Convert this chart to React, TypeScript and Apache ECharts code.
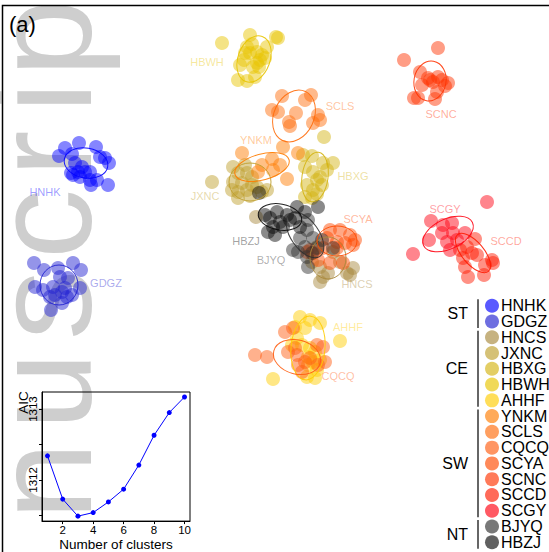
import React, { useEffect, useRef } from "react";
import * as echarts from "echarts";

const FONT = "'Liberation Sans', Arial, Helvetica, sans-serif";

// ---- clusters (legend order) ----
const clusterNames = ["HNHK", "GDGZ", "HNCS", "JXNC", "HBXG", "HBWH", "AHHF", "YNKM", "SCLS", "CQCQ", "SCYA", "SCNC", "SCCD", "SCGY", "BJYQ", "HBZJ"];
const clusterColors = ["#0000ff", "#2020d0", "#a8883c", "#bf9f2c", "#d4b412", "#e8c400", "#ffcc00", "#ff7c00", "#ff6c0a", "#ff5c10", "#ff4a00", "#ff3200", "#ff1a00", "#ff0010", "#303030", "#0a0a0a"];
const groupNames = ["ST", "CE", "SW", "NT"];
const groupSizes = [2, 5, 7, 2];

// ---- sample scores on the ordination plane (plane units) ----
const HNHK = [[59,156],[65,148],[79,143],[72,154],[96,147],[100,157],[105,158],[109,163],[75,163],[82,167],[78,172],[85,172],[90,172],[73,175],[80,177],[90,180],[97,180],[91,185],[108,185],[71,173]];
const GDGZ = [[34,263],[44,270],[73,263],[81,270],[58,268],[60,277],[68,278],[35,287],[43,290],[53,287],[80,288],[65,288],[55,295],[67,297],[50,297],[62,303],[72,295],[51,310],[62,292]];
const HNCS = [[323,277],[320,282],[328,273],[347,273],[353,268],[350,275],[320,267],[312,262],[333,252],[317,247],[256,217],[340,262]];
const JXNC = [[212,182],[233,167],[245,165],[238,173],[247,173],[252,177],[233,182],[242,183],[232,190],[238,192],[247,190],[257,187],[267,190],[238,198],[250,196],[262,192],[252,185]];
const HBXG = [[303,155],[312,156],[305,167],[313,172],[327,170],[333,163],[320,177],[317,180],[307,185],[322,185],[313,190],[305,197],[312,198],[317,194],[323,163],[324,137]];
const HBWH = [[222,43],[250,35],[278,38],[276,37],[267,47],[247,47],[252,44],[245,53],[257,52],[262,55],[250,53],[260,60],[265,58],[257,63],[244,60],[240,65],[253,67],[259,67],[238,80],[247,81],[255,77]];
const AHHF = [[300,317],[310,320],[320,323],[295,327],[305,328],[340,341],[297,338],[302,345],[310,348],[315,352],[308,357],[313,362],[320,360],[308,365],[317,370],[307,377],[315,378],[273,379],[292,345]];
const YNKM = [[242,153],[272,159],[280,165],[273,170],[287,179],[283,147],[298,153],[258,172],[262,165]];
const SCLS = [[282,96],[272,110],[278,112],[296,113],[305,100],[311,95],[318,115],[313,123],[320,120],[289,122],[290,126]];
const CQCQ = [[255,355],[267,357],[285,332],[293,328],[288,352],[297,355],[298,365],[305,362],[302,372],[310,358],[317,345],[323,347],[325,362],[318,365],[295,348]];
const SCYA = [[330,230],[340,230],[350,235],[355,240],[327,238],[337,242],[345,243],[353,245],[323,248],[337,248],[310,250],[313,253],[318,260],[330,263],[343,263],[307,252]];
const SCNC = [[404,60],[438,48],[420,72],[428,78],[438,77],[448,83],[445,86],[422,85],[433,82],[437,92],[435,99],[414,98],[418,98],[442,80],[430,80]];
const SCCD = [[475,239],[467,247],[460,250],[472,253],[463,258],[477,255],[465,267],[485,265],[492,260],[493,263],[468,277],[484,275]];
const SCGY = [[487,202],[431,221],[413,254],[429,240],[443,225],[452,223],[442,233],[453,233],[447,242],[457,240],[465,233],[450,250]];
const BJYQ = [[308,220],[307,230],[300,238],[293,250],[298,252],[305,247],[307,257],[308,267],[312,253],[317,248],[322,240],[333,248],[313,238]];
const HBZJ = [[259,193],[265,215],[270,218],[277,212],[287,215],[280,222],[290,220],[273,227],[268,232],[283,227],[295,218],[297,207],[305,212],[300,227],[318,207],[275,235]];
const clusterPoints = [HNHK, GDGZ, HNCS, JXNC, HBXG, HBWH, AHHF, YNKM, SCLS, CQCQ, SCYA, SCNC, SCCD, SCGY, BJYQ, HBZJ];

// confidence ellipses: [cx, cy, semi-axis x, semi-axis y, tilt deg]
const ellipseParams = [
  [86,163,22,15,-10],[59,285,19,20,0],[328,258,18,21,0],[250,182,21,19,0],[315,177,13,25,-8],[254,59,16,24,-20],
  [308,348,17,32,-5],[262,167,28,13,15],[294,116,20,27,-25],[297,357,24,17,-15],[337,241,20,15,0],[430,81,16,20,-10],
  [473,253,24,11,-50],[448,234,27,15,25],[305,235,26,14,-55],[280,217,22,13,-10],
];
// cluster label anchors
const labelPos = [[45,192],[106,283],[357,284],[205,196],[353,176],[207,62],[348,327],[256,140],[340,106],[338,376],[358,219],[441,114],[506,241],[445,209],[271,260],[246,241]];

// ---- inset: AIC vs number of clusters ----
const nClusters = [1,2,3,4,5,6,7,8,9,10];
const aicValues = [1312.34,1311.73,1311.49,1311.54,1311.69,1311.87,1312.21,1312.63,1312.95,1313.17];
const aicXTicks = [2,4,6,8,10];
const aicYTicks = [1311.5,1312,1312.5,1313];
const aicYLabels = [1312,1313];

// watermark letters with their starting position along the page
const watermark = [["p",77],["i",113],["r",177],["c",259],["s",340],["u",430],["n",520]];

const rgba = (hex: string, a: number) => {
  const n = parseInt(hex.slice(1), 16);
  return `rgba(${(n >> 16) & 255},${(n >> 8) & 255},${n & 255},${a})`;
};

export default function App() {
  const ref = useRef<HTMLDivElement>(null);
  useEffect(() => {
    if (!ref.current) return;
    const chart = echarts.init(ref.current, null, { renderer: "svg" });

    const scatterSeries = clusterNames.map((name, i) => ({
      type: "scatter",
      name,
      xAxisIndex: 0,
      yAxisIndex: 0,
      symbolSize: 14,
      data: clusterPoints[i],
      itemStyle: { color: rgba(clusterColors[i], 0.6) },
      z: 3,
      silent: true,
    }));

    const ellipseSeries = {
      type: "custom",
      xAxisIndex: 0,
      yAxisIndex: 0,
      z: 4,
      silent: true,
      data: ellipseParams.map((e, i) => [...e, i]),
      renderItem: (params: any, api: any) => {
        const c = api.coord([api.value(0), api.value(1)]);
        const s = api.size([api.value(2), api.value(3)]);
        const col = clusterColors[api.value(5)];
        return {
          type: "ellipse",
          x: c[0],
          y: c[1],
          rotation: (api.value(4) * Math.PI) / 180,
          shape: { cx: 0, cy: 0, rx: Math.abs(s[0]), ry: Math.abs(s[1]) },
          style: { fill: "none", stroke: rgba(col, 0.9), lineWidth: 1 },
        };
      },
    };

    const labelSeries = {
      type: "scatter",
      xAxisIndex: 0,
      yAxisIndex: 0,
      symbolSize: 0,
      z: 5,
      silent: true,
      data: clusterNames.map((n, i) => ({
        name: n,
        value: labelPos[i],
        label: { color: rgba(clusterColors[i], 0.5) },
      })),
      label: { show: true, formatter: "{b}", position: "inside", fontSize: 11, fontFamily: FONT },
    };

    const aicSeries = {
      type: "line",
      xAxisIndex: 1,
      yAxisIndex: 1,
      data: nClusters.map((k, i) => [k, aicValues[i]]),
      symbol: "circle",
      symbolSize: 5,
      showSymbol: true,
      lineStyle: { color: "#0000ff", width: 1 },
      itemStyle: { color: "#0000ff" },
      z: 6,
      silent: true,
    };

    // legend graphics
    const legendX = 492;
    const legendY0 = 305.7;
    const legendStep = 15.77;
    const legendEls: any[] = [];
    clusterNames.forEach((n, i) => {
      const y = legendY0 + i * legendStep;
      legendEls.push({ type: "circle", shape: { cx: legendX, cy: y, r: 7 }, style: { fill: rgba(clusterColors[i], 0.65) }, z: 100 });
      legendEls.push({ type: "text", x: 501, y, style: { text: n, font: `16px ${FONT}`, fill: "#000", textVerticalAlign: "middle", textAlign: "left" }, z: 100 });
    });
    let start = 0;
    groupNames.forEach((g, gi) => {
      const first = legendY0 + start * legendStep;
      const last = legendY0 + (start + groupSizes[gi] - 1) * legendStep;
      legendEls.push({ type: "line", shape: { x1: 478, y1: first - 6.5, x2: 478, y2: last + 6.5 }, style: { stroke: "#333", lineWidth: 1.5 }, z: 100 });
      legendEls.push({ type: "text", x: 468, y: (first + last) / 2, style: { text: g, font: `16px ${FONT}`, fill: "#000", textVerticalAlign: "middle", textAlign: "right" }, z: 100 });
      start += groupSizes[gi];
    });

    const wmEls = watermark.map(([ch, y]) => ({
      type: "text",
      x: 42,
      y: y as number,
      rotation: Math.PI / 2,
      style: { text: ch as string, font: `140px ${FONT}`, lineHeight: 76, fill: "#cecece", textAlign: "left", textVerticalAlign: "middle" },
      z: -10,
    }));

    chart.setOption({
      animation: false,
      backgroundColor: "#ffffff",
      grid: [
        { left: 0, top: 0, width: 549, height: 552, show: false },
        { left: 42, top: 392, width: 148, height: 132, show: true, borderColor: "#000", borderWidth: 1, backgroundColor: "transparent" },
      ],
      xAxis: [
        { gridIndex: 0, type: "value", min: 0, max: 549, show: false },
        {
          gridIndex: 1, type: "value", min: 0.64, max: 10.36,
          axisLine: { show: true, onZero: false, lineStyle: { color: "#000" } },
          axisTick: { show: true, customValues: aicXTicks, length: 3, lineStyle: { color: "#000" } },
          axisLabel: { show: true, customValues: aicXTicks, fontSize: 11.5, color: "#000", margin: 3, fontFamily: FONT, formatter: (v: number) => String(v) },
          splitLine: { show: false },
          name: "Number of clusters", nameLocation: "middle", nameGap: 11,
          nameTextStyle: { fontSize: 13.5, color: "#000", fontFamily: FONT },
        },
      ],
      yAxis: [
        { gridIndex: 0, type: "value", min: 0, max: 552, inverse: true, show: false },
        {
          gridIndex: 1, type: "value", min: 1311.42, max: 1313.24,
          axisLine: { show: true, onZero: false, lineStyle: { color: "#000" } },
          axisTick: { show: true, customValues: aicYTicks, length: 3, lineStyle: { color: "#000" } },
          axisLabel: { show: true, customValues: aicYLabels, rotate: 90, fontSize: 11.5, color: "#000", margin: 3, fontFamily: FONT, formatter: (v: number) => String(Math.round(v)) },
          splitLine: { show: false },
        },
      ],
      graphic: [
        ...wmEls,
        { type: "rect", shape: { x: 2.5, y: 5.5, width: 700, height: 700 }, style: { fill: "none", stroke: "#000", lineWidth: 1.5 }, z: 100 },
        { type: "text", x: 9, y: 24, style: { text: "(a)", font: `22px ${FONT}`, fill: "#000", textVerticalAlign: "middle" }, z: 100 },
        { type: "text", x: 23, y: 402.5, rotation: Math.PI / 2, style: { text: "AIC", font: `13.5px ${FONT}`, fill: "#000", textAlign: "center", textVerticalAlign: "middle" }, z: 100 },
        ...legendEls,
      ],
      series: [...scatterSeries, ellipseSeries, labelSeries, aicSeries],
    });
    return () => chart.dispose();
  }, []);
  return <div ref={ref} style={{ position: "fixed", left: 0, top: 0, width: 549, height: 552 }} />;
}
